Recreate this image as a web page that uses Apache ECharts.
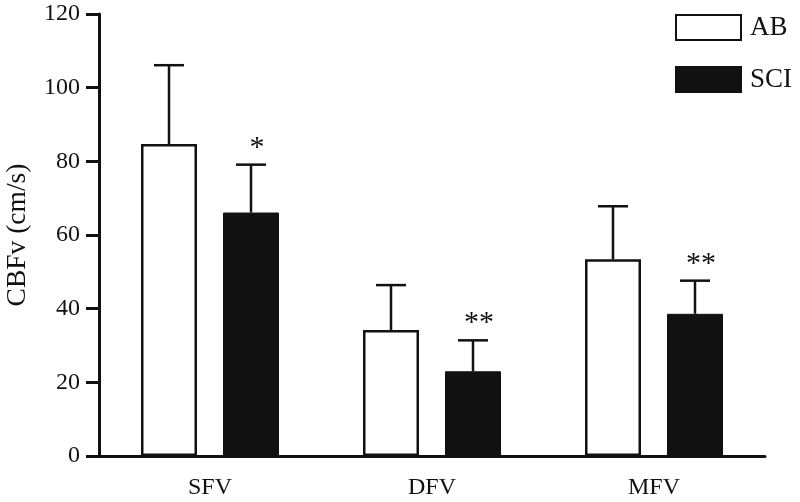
<!DOCTYPE html>
<html>
<head>
<meta charset="utf-8">
<script src="https://cdn.jsdelivr.net/npm/echarts@6/dist/echarts.min.js"></script>
<style>html,body{margin:0;padding:0;background:#fff;}#c{width:800px;height:502px;}</style>
</head>
<body>
<div id="c"></div>
<script>
var categories = ['SFV', 'DFV', 'MFV'];
var seriesNames = ['AB', 'SCI'];
var abMean = [84.7, 34.2, 53.4];
var abSd = [21.4, 12.2, 14.4];
var sciMean = [66.1, 23.0, 38.6];
var sciSd = [13.0, 8.4, 9.0];
var abSig = ['', '', ''];
var sciSig = ['*', '**', '**'];
var yTicks = [0, 20, 40, 60, 80, 100, 120];

var FONT = 'Liberation Serif';
var INK = '#111111';
var BAR_W = 56, BAR_GAP = 26;

function errSeries(means, sds, sig, side) {
  var data = means.map(function (m, i) { return [i, m, sds[i]]; });
  return {
    type: 'custom',
    z: 5,
    silent: true,
    data: data,
    encode: { x: 0, y: 1 },
    renderItem: function (params, api) {
      var ci = api.value(0), v = api.value(1), sd = api.value(2);
      var base = api.coord([ci, v]);
      var top = api.coord([ci, v + sd]);
      var off = side * (BAR_W / 2 + BAR_GAP / 2);
      var x = base[0] + off;
      var capW = 30;
      var children = [
        { type: 'line', shape: { x1: x, y1: base[1], x2: x, y2: top[1] }, style: { stroke: INK, lineWidth: 2.5 } },
        { type: 'line', shape: { x1: x - capW / 2, y1: top[1], x2: x + capW / 2, y2: top[1] }, style: { stroke: INK, lineWidth: 2.5 } }
      ];
      var s = sig[params.dataIndex];
      if (s) {
        children.push({ type: 'text', style: { text: s, x: x + 6, y: top[1] - 17, align: 'center', verticalAlign: 'middle', fontSize: 30, fontFamily: FONT, fill: INK } });
      }
      return { type: 'group', children: children };
    }
  };
}

var chart = echarts.init(document.getElementById('c'));
chart.setOption({
  backgroundColor: '#ffffff',
  animation: false,
  grid: { left: 99, right: 35, top: 14, bottom: 46, containLabel: false, outerBoundsMode: 'none' },
  legend: {
    orient: 'vertical',
    left: 670, top: 9,
    itemWidth: 65, itemHeight: 25, itemGap: 25,
    data: seriesNames,
    icon: 'rect',
    textStyle: { fontFamily: FONT, fontSize: 27, color: INK, padding: [0, 0, 0, 4] }
  },
  xAxis: {
    type: 'category',
    data: categories,
    axisLine: { lineStyle: { color: INK, width: 3 } },
    axisTick: { alignWithLabel: true, length: 13, lineStyle: { color: INK, width: 3 } },
    axisLabel: { fontFamily: FONT, fontSize: 24, color: INK, margin: 20 }
  },
  yAxis: {
    type: 'value',
    min: yTicks[0], max: yTicks[yTicks.length - 1], interval: yTicks[1] - yTicks[0],
    name: 'CBFv (cm/s)',
    nameLocation: 'middle',
    nameRotate: 90,
    nameGap: 67,
    nameTextStyle: { fontFamily: FONT, fontSize: 27.5, color: INK },
    axisLine: { show: true, lineStyle: { color: INK, width: 3 } },
    axisTick: { show: true, length: 13, lineStyle: { color: INK, width: 3 } },
    axisLabel: { fontFamily: FONT, fontSize: 24, color: INK, margin: 19 },
    splitLine: { show: false }
  },
  series: [
    { name: seriesNames[0], type: 'bar', data: abMean, barWidth: BAR_W, barGap: (BAR_GAP / BAR_W * 100) + '%',
      itemStyle: { color: '#ffffff', borderColor: INK, borderWidth: 2.5 } },
    { name: seriesNames[1], type: 'bar', data: sciMean, barWidth: BAR_W,
      itemStyle: { color: INK, borderColor: INK, borderWidth: 1 } },
    errSeries(abMean, abSd, abSig, -1),
    errSeries(sciMean, sciSd, sciSig, 1)
  ]
});
</script>
</body>
</html>
